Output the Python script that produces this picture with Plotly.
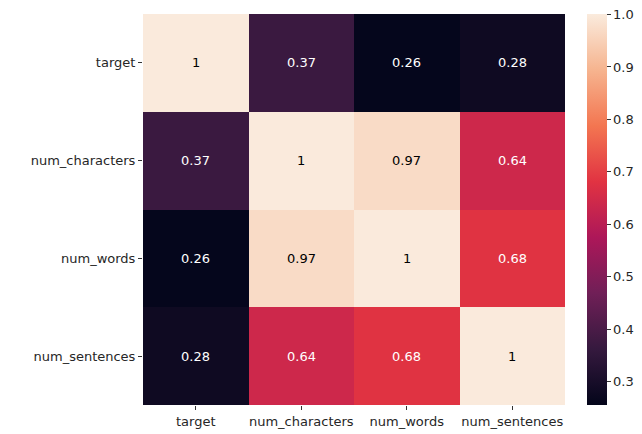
import plotly.graph_objects as go

labels = ["target", "num_characters", "num_words", "num_sentences"]
corr = [
    [1.00, 0.37, 0.26, 0.28],
    [0.37, 1.00, 0.97, 0.64],
    [0.26, 0.97, 1.00, 0.68],
    [0.28, 0.64, 0.68, 1.00],
]
cbar_ticks = [0.3, 0.4, 0.5, 0.6, 0.7, 0.8, 0.9, 1.0]

rocket = [
    [0.0, "#03051A"],
    [1/7, "#35193E"],
    [2/7, "#701F57"],
    [3/7, "#AD1759"],
    [4/7, "#E13342"],
    [5/7, "#F37651"],
    [6/7, "#F6B48F"],
    [1.0, "#FAEBDD"],
]

zmin, zmax = 0.255, 1.001

def fmt(v):
    return "1" if v == 1 else f"{v:.2f}"

fig = go.Figure(go.Heatmap(
    z=corr, x=labels, y=labels,
    colorscale=rocket, zmin=zmin, zmax=zmax,
    xgap=0, ygap=0,
    colorbar=dict(
        x=1.051, xanchor="left", xref="paper",
        y=0, yanchor="bottom", len=1.0, lenmode="fraction",
        thickness=20, outlinewidth=0, ypad=0, xpad=0,
        tickvals=cbar_ticks, ticktext=[f"{t:.1f}" for t in cbar_ticks],
        ticks="outside", ticklen=4, tickcolor="#333",
        ticklabeloverflow="allow",
        tickfont=dict(family="DejaVu Sans", size=13, color="#262626"),
    ),
    hoverinfo="skip",
))

for i, row in enumerate(corr):
    for j, v in enumerate(row):
        frac = (v - zmin) / (zmax - zmin)
        color = "black" if frac > 0.6 else "white"
        fig.add_annotation(x=labels[j], y=labels[i], text=fmt(v), showarrow=False,
                           font=dict(family="DejaVu Sans", size=13, color=color))

fig.update_layout(
    width=642, height=434,
    margin=dict(l=135, r=85, t=6, b=37, autoexpand=False),
    paper_bgcolor="white", plot_bgcolor="white",
    font=dict(family="DejaVu Sans", size=13, color="#262626"),
)
fig.update_xaxes(ticks="outside", ticklen=4, tickcolor="#333", showgrid=False,
                 zeroline=False, showline=False, automargin=False)
fig.update_yaxes(autorange="reversed", ticks="outside", ticklen=4, tickcolor="#333",
                 showgrid=False, zeroline=False, showline=False, automargin=False)

fig.write_html("out.html")
